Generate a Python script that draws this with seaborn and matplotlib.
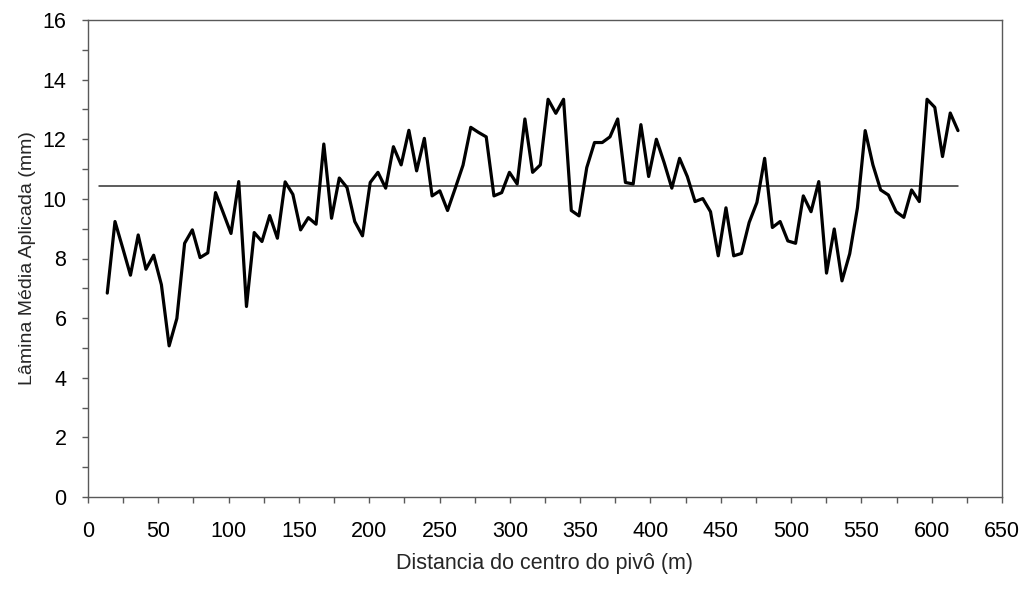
import matplotlib
matplotlib.use("Agg")
import matplotlib.pyplot as plt
from matplotlib.ticker import MultipleLocator
import seaborn as sns
import pandas as pd

# ---- data ----
distance_m = [
    13.7, 19.2, 24.7, 30.2, 35.7, 41.2, 46.7, 52.2, 57.7, 63.2,
    68.7, 74.2, 79.7, 85.2, 90.7, 96.2, 101.7, 107.2, 112.7, 118.2,
    123.7, 129.2, 134.7, 140.2, 145.7, 151.2, 156.7, 162.2, 167.7, 173.2,
    178.7, 184.2, 189.7, 195.2, 200.7, 206.2, 211.7, 217.2, 222.7, 228.2,
    233.7, 239.2, 244.7, 250.2, 255.7, 261.2, 266.7, 272.2, 277.7, 283.2,
    288.7, 294.2, 299.7, 305.2, 310.7, 316.2, 321.7, 327.2, 332.7, 338.2,
    343.7, 349.2, 354.7, 360.2, 365.7, 371.2, 376.7, 382.2, 387.7, 393.2,
    398.7, 404.2, 409.7, 415.2, 420.7, 426.2, 431.7, 437.2, 442.7, 448.2,
    453.7, 459.2, 464.7, 470.2, 475.7, 481.2, 486.7, 492.2, 497.7, 503.2,
    508.7, 514.2, 519.7, 525.2, 530.7, 536.2, 541.7, 547.2, 552.7, 558.2,
    563.7, 569.2, 574.7, 580.2, 585.7, 591.2, 596.7, 602.2, 607.7, 613.2,
    618.7,
]
lamina_mm = [
    6.84, 9.24, 8.35, 7.44, 8.79, 7.64, 8.11, 7.12, 5.07, 5.99,
    8.51, 8.96, 8.03, 8.19, 10.21, 9.53, 8.84, 10.58, 6.39, 8.87,
    8.57, 9.44, 8.68, 10.57, 10.15, 8.96, 9.37, 9.15, 11.84, 9.35,
    10.70, 10.38, 9.24, 8.76, 10.55, 10.89, 10.36, 11.75, 11.14, 12.30,
    10.94, 12.03, 10.10, 10.27, 9.61, 10.36, 11.13, 12.40, 12.23, 12.08,
    10.10, 10.21, 10.89, 10.50, 12.68, 10.89, 11.14, 13.34, 12.87, 13.34,
    9.61, 9.43, 11.05, 11.89, 11.89, 12.08, 12.68, 10.55, 10.50, 12.49,
    10.75, 12.00, 11.22, 10.36, 11.36, 10.75, 9.91, 10.01, 9.57, 8.09,
    9.70, 8.09, 8.17, 9.21, 9.88, 11.36, 9.04, 9.24, 8.59, 8.51,
    10.10, 9.57, 10.58, 7.51, 8.99, 7.25, 8.16, 9.70, 12.29, 11.14,
    10.30, 10.13, 9.57, 9.38, 10.30, 9.91, 13.34, 13.07, 11.42, 12.88,
    12.29,
]
mean_level = 10.42
mean_span = [8, 619]

x_label = "Distancia do centro do pivô (m)"
y_label = "Lâmina Média Aplicada (mm)"

# ---- style ----
sns.set_style("white")
plt.rcParams["font.family"] = ["Liberation Sans", "DejaVu Sans"]

df = pd.DataFrame({"dist": distance_m, "lam": lamina_mm})
mean_df = pd.DataFrame({"dist": mean_span, "lam": [mean_level, mean_level]})

fig = plt.figure(figsize=(10.26, 5.9), dpi=100)
ax = fig.add_axes([88 / 1026, 1 - 497 / 590, (1002 - 88) / 1026, (497 - 20) / 590])

sns.lineplot(data=mean_df, x="dist", y="lam", ax=ax, color="#303030", linewidth=1.1)
sns.lineplot(data=df, x="dist", y="lam", ax=ax, color="black", linewidth=2.3)

ax.set_xlim(0, 650)
ax.set_ylim(0, 16)
ax.xaxis.set_major_locator(MultipleLocator(50))
ax.xaxis.set_minor_locator(MultipleLocator(25))
ax.yaxis.set_major_locator(MultipleLocator(2))
ax.yaxis.set_minor_locator(MultipleLocator(1))

spine_col = "#595959"
for s in ax.spines.values():
    s.set_visible(True)
    s.set_color(spine_col)
    s.set_linewidth(1.0)

ax.tick_params(axis="both", which="both", direction="out", length=4.5,
               width=1.0, color=spine_col, labelsize=15.5, labelcolor="black")
ax.tick_params(axis="x", which="both", bottom=True, pad=13)
ax.tick_params(axis="y", which="both", left=True, pad=11)

ax.set_xlabel(x_label, fontsize=15.5, labelpad=8)
ax.set_ylabel(y_label, fontsize=14, labelpad=5)

fig.savefig("out.png", dpi=100)
